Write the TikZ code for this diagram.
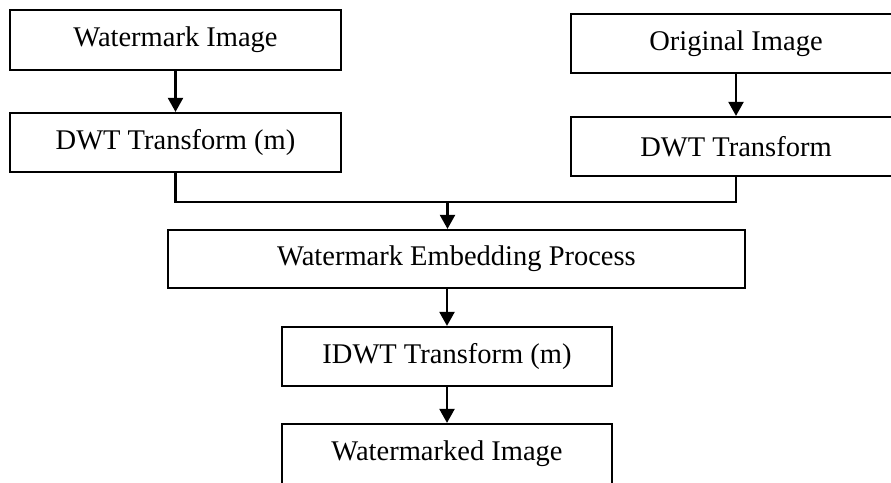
\documentclass[tikz,border=0pt]{standalone}
\usepackage{fontspec}
\setmainfont{Liberation Serif}
\usetikzlibrary{arrows.meta}
\tikzset{
  stagebox/.style={draw=black, line width=2.2pt, rectangle, inner sep=0pt,
    font=\fontsize{28.5}{34}\selectfont},
  flow/.style={draw=black, line width=2.2pt, -{Triangle[width=15pt,length=14pt]}},
  link/.style={draw=black, line width=2.2pt}
}
\begin{document}
\begin{tikzpicture}[x=1pt,y=-1pt]
\clip (0,0) rectangle (891,482);
\fill[white] (0,0) rectangle (891,482);

% left branch: watermark
\node[stagebox, minimum width=331pt, minimum height=60pt] (wi) at (175.5,40) {Watermark Image};
\node[stagebox, minimum width=331pt, minimum height=59pt] (dwtm) at (175.5,142.5) {DWT Transform (m)};

% right branch: host image
\node[stagebox, minimum width=330pt, minimum height=59pt] (oi) at (736,43.5) {Original Image};
\node[stagebox, minimum width=330pt, minimum height=59pt] (dwt) at (736,146.5) {DWT Transform};

% merged path
\node[stagebox, minimum width=577pt, minimum height=58pt] (emb) at (456.5,259) {Watermark Embedding Process};
\node[stagebox, minimum width=330pt, minimum height=59pt] (idwt) at (447,356.5) {IDWT Transform (m)};
\node[stagebox, minimum width=330pt, minimum height=60pt] (wmd) at (447,454) {Watermarked Image};

\coordinate (join) at (447.5,202);

\draw[flow] (wi) -- (dwtm);
\draw[flow] (oi) -- (dwt);
\draw[link] (dwtm.south) |- (join);
\draw[link] (dwt.south) |- (join);
\draw[flow] (join) -- (join |- emb.north);
\draw[flow] (idwt.north |- emb.south) -- (idwt.north);
\draw[flow] (idwt) -- (wmd);
\end{tikzpicture}
\end{document}
